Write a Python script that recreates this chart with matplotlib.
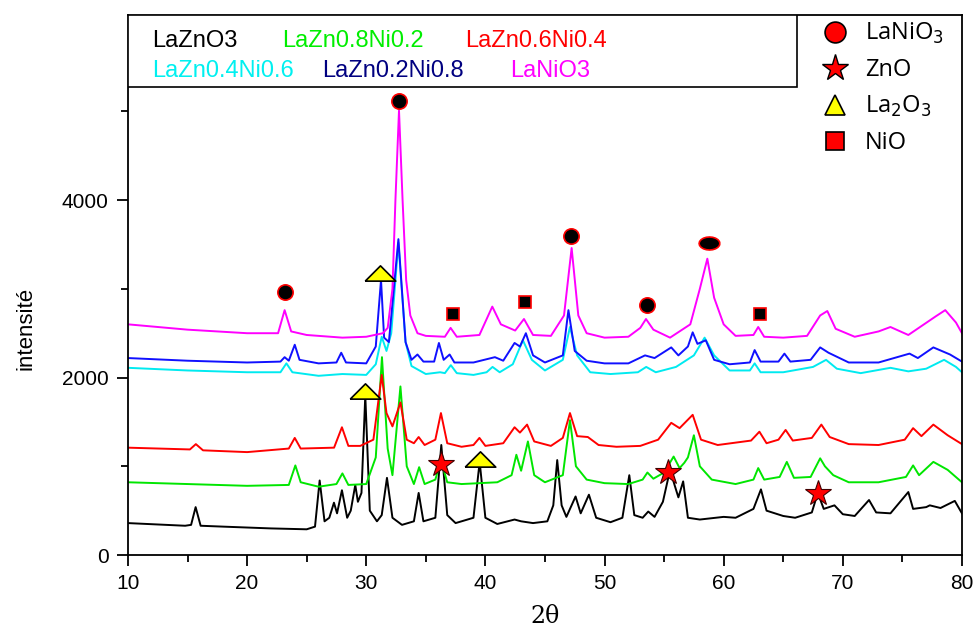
import math
import matplotlib
matplotlib.use("Agg")
import matplotlib.pyplot as plt
from matplotlib.lines import Line2D
from matplotlib.patches import Rectangle

# --- data (2theta, intensity) ---
lazno3_x = [10, 14.8, 15.3, 15.68, 16.1, 18, 22, 25, 25.7, 26.09, 26.5, 26.9, 27.29, 27.55, 27.96, 28.4, 28.7,
            29.08, 29.3, 29.6, 29.92, 30.3, 30.9, 31.3, 31.74, 32.2, 33, 34.0, 34.4, 34.8, 35.8, 36.3, 36.8,
            37.5, 39.0, 39.52, 40.0, 41, 42.45, 43, 44, 45.2, 45.7, 46.03, 46.4, 46.8, 47.57, 48.0, 48.69,
            49.3, 50.5, 51.5, 52.08, 52.5, 53.2, 53.67, 54.2, 54.9, 55.5, 55.9, 56.2, 56.6, 57.0, 58, 60, 61,
            62.5, 63.13, 63.6, 65, 66, 67.4, 67.9, 68.4, 69.3, 70, 71, 72.2, 72.8, 74, 75.5, 75.9, 77, 77.3,
            78.2, 79.4, 80]
lazno3_y = [360, 330, 340, 540, 330, 320, 300, 290, 320, 840, 380, 420, 590, 470, 730, 420, 500,
            790, 600, 700, 1800, 500, 380, 450, 870, 420, 340, 380, 700, 380, 420, 1240, 450,
            360, 420, 1050, 420, 350, 400, 380, 360, 380, 560, 1070, 560, 430, 660, 470, 680,
            420, 370, 420, 900, 450, 420, 490, 430, 600, 960, 780, 650, 830, 420, 400, 430, 420,
            520, 740, 500, 440, 420, 480, 700, 520, 560, 460, 440, 620, 480, 470, 710, 520, 540, 560,
            530, 610, 470]

ni02_x = [10, 15, 20, 23.5, 24.05, 24.5, 26, 27.5, 28.0, 28.5, 30, 30.8, 31.32, 31.8, 32.2, 32.87, 33.4,
          34.0, 34.44, 34.9, 35.8, 36.27, 36.8, 38, 39.5, 41, 42.2, 42.6, 43.0, 43.57, 44.1, 45, 46.5,
          47.1, 47.6, 48.5, 50, 52, 53.2, 53.6, 54.1, 55.0, 55.8, 56.3, 56.7, 57.0, 57.5, 58.0, 59, 61,
          62.5, 62.9, 63.4, 64.7, 65.3, 65.9, 67.3, 68.1, 68.5, 69.2, 70.5, 73, 75.3, 75.9, 76.4, 77.6,
          78.8, 80]
ni02_y = [820, 800, 780, 790, 1010, 820, 770, 800, 920, 790, 800, 1100, 2230, 1200, 900, 1900, 1000,
          800, 990, 800, 850, 1070, 820, 800, 810, 820, 900, 1130, 950, 1280, 900, 820, 900,
          1520, 1000, 850, 810, 800, 850, 930, 860, 930, 1110, 980, 1040, 1100, 1350, 1000, 850, 800,
          850, 980, 850, 880, 1050, 870, 880, 1090, 1000, 900, 820, 820, 880, 1010, 900, 1050,
          960, 820]

ni04_x = [10, 15.2, 15.7, 16.3, 20, 23.5, 24.0, 24.5, 27.3, 27.96, 28.5, 29.5, 30.6, 31.3, 31.7, 32.2,
          32.87, 33.4, 34.0, 34.4, 34.9, 35.8, 36.27, 36.8, 38, 39.0, 39.5, 40.0, 41.5, 42.45, 42.9, 43.5,
          44.1, 45.5, 46.5, 47.1, 47.7, 48.6, 49.5, 51, 53, 54.5, 55.6, 56.3, 57.4, 58.1, 59.5, 62.3, 63.0,
          63.6, 64.6, 65.2, 65.8, 67.4, 68.2, 68.9, 70.5, 73, 75.2, 75.9, 76.6, 77.6, 78.8, 80]
ni04_y = [1210, 1190, 1250, 1180, 1160, 1200, 1320, 1200, 1210, 1440, 1230, 1230, 1300, 2030, 1600, 1450,
          1720, 1300, 1260, 1330, 1240, 1300, 1600, 1260, 1220, 1240, 1320, 1230, 1260, 1440, 1380, 1470,
          1280, 1230, 1320, 1600, 1340, 1330, 1240, 1220, 1230, 1300, 1490, 1430, 1580, 1300, 1240, 1290, 1390,
          1260, 1300, 1410, 1290, 1320, 1470, 1330, 1250, 1240, 1300, 1430, 1340, 1470, 1350, 1250]

ni06_x = [10, 15, 20, 22.8, 23.3, 23.8, 26, 28, 30, 30.8, 31.3, 31.7, 32.1, 32.7, 33.3, 33.8, 35, 36.2,
          36.6, 37.1, 37.6, 39, 40.1, 40.6, 41.2, 42.3, 43.15, 43.9, 45, 46.5, 47.1, 47.7, 48.8, 50.5, 52.8,
          53.5, 54.3, 56, 57.5, 58.4, 59.2, 60.5, 62.2, 62.6, 63.1, 65, 67.5, 68.6, 69.5, 71.5, 74.0, 75.5,
          77, 78.5, 79.5, 80]
ni06_y = [2110, 2080, 2060, 2060, 2160, 2060, 2020, 2040, 2030, 2150, 2460, 2300, 2500, 3520, 2400, 2130, 2040, 2060,
          2050, 2140, 2050, 2030, 2060, 2120, 2060, 2150, 2420, 2200, 2080, 2200, 2570, 2250, 2060, 2040, 2060,
          2120, 2060, 2120, 2250, 2450, 2250, 2080, 2080, 2160, 2060, 2060, 2120, 2200, 2100, 2050, 2110, 2070,
          2100, 2200, 2120, 2060]

ni08_x = [10, 15, 20, 22.8, 23.15, 23.5, 24.0, 24.4, 26, 27.5, 27.9, 28.3, 30, 30.8, 31.24, 31.5, 31.9,
          32.7, 33.3, 33.8, 34.3, 34.8, 35.7, 36.1, 36.5, 37.0, 37.4, 39, 40.8, 41.5, 42.45, 42.9, 43.4, 44,
          45, 46.5, 46.97, 47.5, 48.5, 50, 52, 53.4, 54.2, 55.6, 56.2, 57.0, 57.4, 57.8, 58.5, 59.2, 60.5,
          62.2, 62.6, 63.1, 64.6, 65.1, 65.6, 67.3, 68.1, 68.8, 70.5, 73, 75.6, 76.3, 77.6, 79, 80]
ni08_y = [2220, 2190, 2170, 2180, 2230, 2190, 2370, 2200, 2160, 2170, 2280, 2170, 2160, 2350, 3100, 2450, 2400,
          3560, 2400, 2200, 2260, 2180, 2180, 2390, 2200, 2260, 2170, 2170, 2230, 2190, 2390, 2350, 2500, 2250,
          2170, 2250, 2760, 2300, 2190, 2160, 2160, 2250, 2220, 2340, 2250, 2350, 2510, 2380, 2420, 2200, 2150,
          2170, 2310, 2180, 2180, 2270, 2180, 2200, 2340, 2280, 2170, 2170, 2270, 2220, 2340, 2260, 2180]

lanio3_x = [10, 15, 20, 22.6, 23.15, 23.7, 25, 28, 30, 31.4, 31.8, 32.2, 32.45, 32.75, 33.05, 33.35, 33.7, 34.3,
            35, 36.6, 37.08, 37.6, 39.5, 40.58, 41.3, 42.5, 43.24, 44, 45.5, 46.6, 47.24, 47.8, 48.5, 50, 52,
            53.0, 53.48, 54.1, 55.5, 57.2, 58.0, 58.63, 59.2, 60, 61, 62.5, 62.9, 63.4, 65, 67, 68.1, 68.7,
            69.4, 71, 73, 74.0, 75.5, 77.8, 78.6, 79.5, 80]
lanio3_y = [2600, 2540, 2500, 2500, 2760, 2520, 2480, 2450, 2460, 2500, 2560, 3000, 4000, 5010, 4000, 3100, 2700, 2500,
            2470, 2460, 2560, 2460, 2480, 2800, 2600, 2530, 2660, 2480, 2470, 2700, 3460, 2700, 2500, 2450, 2460,
            2560, 2660, 2540, 2450, 2600, 3000, 3340, 2900, 2600, 2470, 2480, 2570, 2460, 2450, 2470, 2700, 2750,
            2550, 2460, 2520, 2570, 2480, 2690, 2760, 2620, 2500]

# phase markers
lanio3_mx = [23.2, 32.75, 47.18, 53.56]
lanio3_my = [2964, 5116, 3595, 2817]
lanio3_ell_x = [58.77]
lanio3_ell_y = [3516]
nio_mx = [37.28, 43.3, 63.05]
nio_my = [2716, 2851, 2716]
la2o3_mx = [31.15, 29.9, 39.55]
la2o3_my = [3178, 1848, 1082]
zno_mx = [36.27, 55.3, 67.9]
zno_my = [1026, 935, 699]

series = [
    (lazno3_x, lazno3_y, "black", "LaZnO3", "black"),
    (ni02_x, ni02_y, "#00e600", "LaZn0.8Ni0.2", "#00ee00"),
    (ni04_x, ni04_y, "red", "LaZn0.6Ni0.4", "red"),
    (ni06_x, ni06_y, "#00eaf0", "LaZn0.4Ni0.6", "#00f0f0"),
    (ni08_x, ni08_y, "#1010ff", "LaZn0.2Ni0.8", "#000080"),
    (lanio3_x, lanio3_y, "#ff00ff", "LaNiO3", "#ff00ff"),
]

fig = plt.figure(figsize=(9.76, 6.3), dpi=100)
ax = fig.add_axes([0.1311, 0.119, 0.8545, 0.857])

for x, y, c, lab, tc in series:
    ax.plot(x, y, color=c, lw=1.4)

flat_tri = [(-1, -0.5), (1, -0.5), (0, 0.5), (-1, -0.5)]
ellipse = [(1.6 * math.cos(t / 20 * 2 * math.pi), math.sin(t / 20 * 2 * math.pi)) for t in range(21)]

ax.plot(lanio3_mx, lanio3_my, "o", ms=11, mfc="black", mec="red", mew=1.2, zorder=5)
ax.plot(lanio3_ell_x, lanio3_ell_y, marker=ellipse, ls="none", ms=15, mfc="black", mec="red", mew=1.2, zorder=5)
ax.plot(nio_mx, nio_my, "s", ms=9, mfc="black", mec="red", mew=1.2, zorder=5)
ax.plot(la2o3_mx, la2o3_my, marker=flat_tri, ls="none", ms=22, mfc="yellow", mec="black", mew=1.2, zorder=5)
ax.plot(zno_mx, zno_my, "*", ms=19, mfc="red", mec="#400000", mew=0.8, zorder=5)

ax.set_xlim(10, 80)
ax.set_ylim(0, 6085)
ax.set_xticks(range(10, 81, 10))
ax.set_xticks(range(15, 80, 10), minor=True)
ax.set_yticks([0, 2000, 4000])
ax.set_yticks([1000, 3000, 5000], minor=True)
ax.tick_params(which="major", length=8, width=1.3, labelsize=15, direction="out", pad=6)
ax.tick_params(which="minor", length=5, width=1.3, direction="out")
for lbl in ax.get_xticklabels() + ax.get_yticklabels():
    lbl.set_fontfamily("Liberation Sans")
for s in ax.spines.values():
    s.set_linewidth(1.3)

ax.set_ylabel("intensité", fontsize=16, family="Liberation Sans")
ax.yaxis.set_label_coords(-0.11, 0.42)
ax.set_xlabel("2θ", fontsize=17, family="DejaVu Serif", labelpad=8)

# sample name box, upper left
ax.add_patch(Rectangle((0, 0.8667), 0.802, 0.1333, transform=ax.transAxes,
                       facecolor="white", edgecolor="black", lw=1.2, zorder=6))
pos = [(0.0288, 0.9407), (0.1847, 0.9407), (0.404, 0.9407),
       (0.0288, 0.885), (0.2326, 0.885), (0.458, 0.885)]
for (x, y, c, lab, tc), (px, py) in zip(series, pos):
    ax.text(px, py, lab, color=tc, fontsize=17, family="Liberation Sans",
            transform=ax.transAxes, va="baseline", zorder=7)

# phase legend, upper right
handles = [
    Line2D([], [], ls="none", marker="o", ms=15, mfc="red", mec="black", mew=1.2),
    Line2D([], [], ls="none", marker="*", ms=20, mfc="red", mec="black", mew=1.0),
    Line2D([], [], ls="none", marker="^", ms=15, mfc="yellow", mec="black", mew=1.2),
    Line2D([], [], ls="none", marker="s", ms=13, mfc="red", mec="black", mew=1.2),
]
labels = ["LaNiO$_3$", "ZnO", "La$_2$O$_3$", "NiO"]
leg = ax.legend(handles, labels, loc="upper left", bbox_to_anchor=(0.81, 1.015), frameon=False,
                prop={"family": "Open Sans", "size": 17}, labelspacing=0.5,
                handletextpad=0.5, borderaxespad=0.2, handlelength=1.5)
leg.set_zorder(8)

fig.savefig("out.png", dpi=100)
